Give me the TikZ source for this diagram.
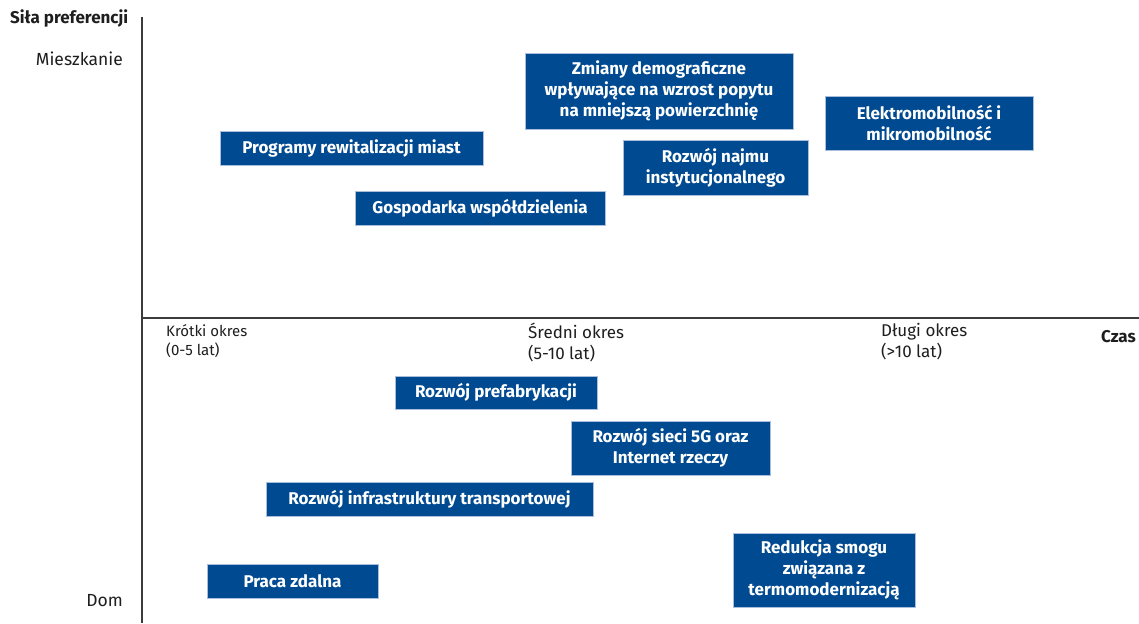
\documentclass[tikz,border=0pt]{standalone}
\usepackage{fontspec}
\setmainfont{Fira Sans}
\definecolor{boxblue}{RGB}{0,74,145}
\definecolor{boxedge}{RGB}{170,190,220}
\definecolor{axisgray}{RGB}{60,60,60}
\definecolor{txt}{RGB}{30,30,30}
\begin{document}
\begin{tikzpicture}[x=1pt,y=-1pt,
  factor/.style={fill=boxblue, draw=boxedge, line width=0.6pt, text=white, align=center,
    inner sep=0pt, font=\fontsize{17}{21}\selectfont\bfseries},
  axlabel/.style={text=txt, inner sep=0pt, align=left, font=\fontsize{15}{19}\selectfont},
  axis/.style={draw=axisgray, line width=1.6pt}]
\useasboundingbox (0,0) rectangle (1139,623);
\fill[white] (0,0) rectangle (1139,623);
% axes
\coordinate (ytop) at (142,17);
\coordinate (ybot) at (142,623);
\coordinate (xl) at (142,318);
\coordinate (xr) at (1139,318);
\draw[axis] (ytop) -- (ybot);
\draw[axis] (xl) -- (xr);
% axis labels
\node[text=txt, inner sep=0pt, anchor=base west, font=\fontsize{17}{20}\selectfont\bfseries] (sila) at (10,24) {Siła preferencji};
\node[axlabel, anchor=base east, font=\fontsize{17.5}{20}\selectfont] (mieszk) at (123,66) {Mieszkanie};
\node[axlabel, anchor=base east, font=\fontsize{17.5}{20}\selectfont] (dom) at (123,606) {Dom};
\node[axlabel, anchor=north west] (krotki) at (166,324) {Krótki okres\\(0-5 lat)};
\node[axlabel, anchor=north west, font=\fontsize{17}{21}\selectfont] (sredni) at (528,323) {Średni okres\\(5-10 lat)};
\node[axlabel, anchor=north west, font=\fontsize{17}{21}\selectfont] (dlugi) at (881,323) {Długi okres\\(>10 lat)};
\node[text=txt, inner sep=0pt, anchor=base west, font=\fontsize{17}{20}\selectfont\bfseries] (czas) at (1101,342) {Czas};
% factor boxes
\node[factor, minimum width=268, minimum height=76] (demo) at (659,91) {Zmiany demograficzne\\wpływające na wzrost popytu\\na mniejszą powierzchnię};
\node[factor, minimum width=208, minimum height=54] (elektro) at (929,123) {Elektromobilność i\\mikromobilność};
\node[factor, minimum width=263, minimum height=34] (rewit) at (351.5,148) {Programy rewitalizacji miast};
\node[factor, minimum width=185, minimum height=55] (najem) at (715.5,167.5) {Rozwój najmu\\instytucjonalnego};
\node[factor, minimum width=250, minimum height=34] (gosp) at (480,208) {Gospodarka współdzielenia};
\node[factor, minimum width=202, minimum height=33] (prefab) at (496,392.5) {Rozwój prefabrykacji};
\node[factor, minimum width=199, minimum height=54] (siec) at (670.5,448) {Rozwój sieci 5G oraz\\Internet rzeczy};
\node[factor, minimum width=327, minimum height=34] (infra) at (429.5,499) {Rozwój infrastruktury transportowej};
\node[factor, minimum width=182, minimum height=74] (smog) at (824,570) {Redukcja smogu\\związana z\\termomodernizacją};
\node[factor, minimum width=171, minimum height=34] (praca) at (292.5,581) {Praca zdalna};
\end{tikzpicture}
\end{document}
